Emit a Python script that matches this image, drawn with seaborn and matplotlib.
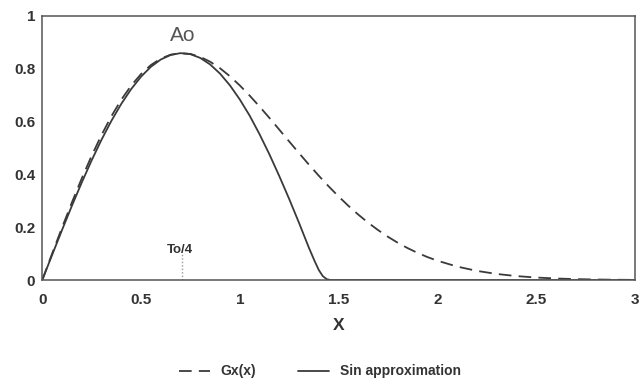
import numpy as np
import pandas as pd
import matplotlib
matplotlib.use("Agg")
import matplotlib.pyplot as plt
import seaborn as sns

# ---- data ----
gx_x = [0.00, 0.05, 0.10, 0.15, 0.20, 0.25, 0.30, 0.35, 0.40, 0.45, 0.50, 0.55, 0.60,
        0.65, 0.70, 0.75, 0.80, 0.85, 0.90, 0.95, 1.00, 1.05, 1.10, 1.15, 1.20, 1.25,
        1.30, 1.35, 1.40, 1.45, 1.50, 1.55, 1.60, 1.65, 1.70, 1.75, 1.80, 1.85, 1.90,
        1.95, 2.00, 2.10, 2.20, 2.30, 2.40, 2.50, 2.60, 2.70, 2.80, 2.90, 3.00]
gx_y = [0.0000, 0.0998, 0.1980, 0.2933, 0.3843, 0.4697, 0.5484, 0.6193, 0.6817, 0.7350,
        0.7788, 0.8129, 0.8372, 0.8520, 0.8577, 0.8547, 0.8437, 0.8254, 0.8007, 0.7705,
        0.7358, 0.6973, 0.6560, 0.6129, 0.5686, 0.5240, 0.4798, 0.4364, 0.3944, 0.3542,
        0.3162, 0.2805, 0.2474, 0.2168, 0.1890, 0.1637, 0.1410, 0.1207, 0.1028, 0.0870,
        0.0733, 0.0511, 0.0348, 0.0232, 0.0151, 0.0097, 0.0060, 0.0037, 0.0022, 0.0013,
        0.0007]

sin_x = [0.00, 0.05, 0.10, 0.15, 0.20, 0.25, 0.30, 0.35, 0.40, 0.45, 0.50, 0.55, 0.60,
         0.65, 0.70, 0.75, 0.80, 0.85, 0.90, 0.95, 1.00, 1.05, 1.10, 1.15, 1.20, 1.25,
         1.30, 1.35, 1.38, 1.40, 1.42, 1.44, 1.46, 2.00, 3.00]
sin_y = [0.0000, 0.0951, 0.1890, 0.2806, 0.3688, 0.4524, 0.5304, 0.6019, 0.6660, 0.7218,
         0.7688, 0.8063, 0.8338, 0.8510, 0.8579, 0.8541, 0.8397, 0.8151, 0.7804, 0.7362,
         0.6828, 0.6216, 0.5514, 0.4752, 0.3930, 0.3066, 0.2160, 0.1220, 0.0700, 0.0380,
         0.0150, 0.0035, 0.0000, 0.0000, 0.0000]

x_ticks = [0, 0.5, 1, 1.5, 2, 2.5, 3]
x_ticklabels = ["0", "0.5", "1", "1.5", "2", "2.5", "3"]
y_ticks = [0, 0.2, 0.4, 0.6, 0.8, 1.0]
y_ticklabels = ["0", "0.2", "0.4", "0.6", "0.8", "1"]
series_names = ["Gx(x)", "Sin approximation"]
quarter_period = 0.707
quarter_marker_height = 0.1

sns.set_style("white")
plt.rcParams["font.family"] = ["Liberation Sans", "DejaVu Sans"]

df_gx = pd.DataFrame({"x": gx_x, "y": gx_y})
df_sin = pd.DataFrame({"x": sin_x, "y": sin_y})

fig = plt.figure(figsize=(6.40, 3.79), dpi=100)
ax = fig.add_axes([0.066, 0.261, 0.926, 0.698])

line_col = "#3a3a3a"
sns.lineplot(data=df_gx, x="x", y="y", ax=ax, color=line_col, linewidth=1.3,
             label=series_names[0], estimator=None, sort=False)
ax.lines[-1].set_dashes((7, 4))
sns.lineplot(data=df_sin, x="x", y="y", ax=ax, color=line_col, linewidth=1.3,
             label=series_names[1], estimator=None, sort=False)

ax.plot([quarter_period, quarter_period], [0, quarter_marker_height],
        color="#9a9a9a", linestyle=(0, (1, 1.5)), linewidth=1.0)
ax.text(quarter_period - 0.01, 0.103, "To/4", ha="center", va="baseline",
        fontsize=9.5, fontweight="bold", color="#333333")
ax.text(0.71, 0.903, "Ao", ha="center", va="baseline", fontsize=15,
        color="#555555")

ax.set_xlim(0, 3)
ax.set_ylim(0, 1)
ax.set_xticks(x_ticks)
ax.set_xticklabels(x_ticklabels)
ax.set_yticks(y_ticks)
ax.set_yticklabels(y_ticklabels)
ax.tick_params(axis="both", direction="in", length=5, width=1, color="#555555",
               labelsize=11, labelcolor="#333333")
ax.tick_params(axis="x", pad=9)
ax.tick_params(axis="y", pad=5)
for lab in ax.get_xticklabels() + ax.get_yticklabels():
    lab.set_fontweight("bold")
ax.set_xlabel("X", fontsize=12.5, fontweight="bold", color="#333333", labelpad=8)
ax.set_ylabel("")
for sp in ax.spines.values():
    sp.set_color("#555555")
    sp.set_linewidth(1.1)

ax.get_legend().remove()
handles, labels = ax.get_legend_handles_labels()
fig.legend(handles, labels, loc="center", bbox_to_anchor=(0.5, 0.02),
           ncol=2, frameon=False, fontsize=10, handlelength=2.2,
           columnspacing=3.0, handletextpad=0.8)
for t in fig.legends[0].get_texts():
    t.set_fontweight("bold")
    t.set_color("#333333")

fig.savefig("out.png", dpi=100)
